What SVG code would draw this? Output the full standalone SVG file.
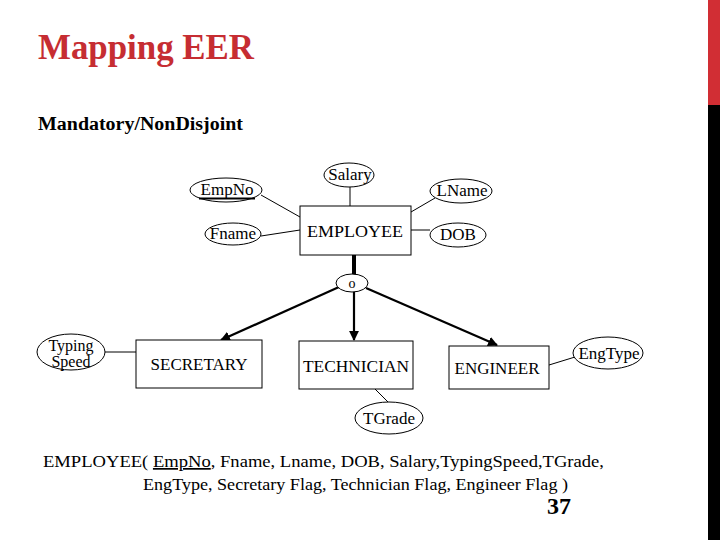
<svg xmlns="http://www.w3.org/2000/svg" width="720" height="540" viewBox="0 0 720 540">
<style>
text{font-family:"Liberation Serif","DejaVu Serif","Times New Roman",serif;fill:#000}
.lbl{font-size:17px;text-anchor:middle}
.ent{fill:#fff;stroke:#000;stroke-width:1}
.att{fill:#fff;stroke:#000;stroke-width:1}
.ln{stroke:#000;stroke-width:1;fill:none}
.arr{stroke:#000;stroke-width:2.2;fill:none;marker-end:url(#ah)}
</style>
<defs>
<marker id="ah" viewBox="0 0 10 10" refX="9" refY="5" markerWidth="4.5" markerHeight="4.5" orient="auto" markerUnits="strokeWidth">
<path d="M0,0 L10,5 L0,10 z" fill="#000"/>
</marker>
</defs>
<rect width="720" height="540" fill="#fff"/>
<rect x="708" y="0" width="12" height="105" fill="#d12e34"/>
<rect x="708" y="105" width="12" height="435" fill="#000"/>
<text x="38" y="59" font-family="Liberation Serif, DejaVu Serif, serif" style="font-size:36px;font-weight:bold;fill:#c62d32" textLength="216" lengthAdjust="spacingAndGlyphs">Mapping EER</text>
<text x="38" y="130" font-family="Liberation Serif, DejaVu Serif, serif" style="font-size:18px;font-weight:bold" textLength="205" lengthAdjust="spacingAndGlyphs">Mandatory/NonDisjoint</text>

<g id="connectors">
<line class="ln" x1="350" y1="187" x2="350" y2="206"/>
<line class="ln" x1="261" y1="195" x2="300" y2="217"/>
<line class="ln" x1="261" y1="236" x2="300" y2="230"/>
<line class="ln" x1="411" y1="212" x2="435" y2="198"/>
<line class="ln" x1="411" y1="230" x2="430" y2="230"/>
<line x1="354" y1="255" x2="354" y2="275" stroke="#000" stroke-width="4"/>
<line class="arr" x1="339" y1="287" x2="221" y2="340"/>
<line class="arr" x1="354" y1="292" x2="354" y2="340"/>
<line class="arr" x1="366" y1="288" x2="497" y2="345"/>
<line class="ln" x1="105" y1="352" x2="136" y2="352"/>
<line class="ln" x1="549" y1="365" x2="575" y2="357"/>
<line class="ln" x1="375" y1="389" x2="388" y2="402"/>
</g>

<g id="employee"><rect class="ent" x="300" y="206" width="111" height="49"/><text class="lbl" x="355" y="237" textLength="96" lengthAdjust="spacingAndGlyphs">EMPLOYEE</text></g>
<g id="salary"><ellipse class="att" cx="349" cy="175" rx="25" ry="12"/><text class="lbl" x="350" y="180">Salary</text></g>
<g id="empno"><ellipse class="att" cx="226" cy="190" rx="36" ry="12"/><text class="lbl" x="227" y="195">EmpNo</text><line x1="199" y1="198.5" x2="255" y2="198.5" stroke="#000" stroke-width="2"/></g>
<g id="lname"><ellipse class="att" cx="461" cy="191" rx="31" ry="12"/><text class="lbl" x="462" y="196">LName</text></g>
<g id="fname"><ellipse class="att" cx="233" cy="234" rx="28" ry="11"/><text class="lbl" x="233" y="239">Fname</text></g>
<g id="dob"><ellipse class="att" cx="458" cy="235" rx="28" ry="12"/><text class="lbl" x="458" y="240">DOB</text></g>
<g id="overlap"><ellipse class="att" cx="352" cy="283" rx="16" ry="9"/><text class="lbl" x="352" y="288" style="font-size:14px">o</text></g>
<g id="secretary"><rect class="ent" x="136" y="340" width="126" height="48"/><text class="lbl" x="199" y="370">SECRETARY</text></g>
<g id="technician"><rect class="ent" x="299" y="341" width="114" height="48"/><text class="lbl" x="356" y="372" textLength="106" lengthAdjust="spacingAndGlyphs">TECHNICIAN</text></g>
<g id="engineer"><rect class="ent" x="449" y="346" width="100" height="43"/><text class="lbl" x="497" y="374">ENGINEER</text></g>
<g id="typingspeed"><ellipse class="att" cx="71" cy="352" rx="34" ry="18"/><text class="lbl" x="71" y="351" style="font-size:16px">Typing</text><text class="lbl" x="71" y="367" style="font-size:16px">Speed</text></g>
<g id="engtype"><ellipse class="att" cx="608" cy="353" rx="35" ry="16"/><text class="lbl" x="609" y="359">EngType</text></g>
<g id="tgrade"><ellipse class="att" cx="389" cy="418" rx="34" ry="16"/><text class="lbl" x="389" y="424">TGrade</text></g>

<text x="43" y="467" style="font-size:17px" textLength="561" lengthAdjust="spacingAndGlyphs">EMPLOYEE( <tspan text-decoration="underline">EmpNo</tspan>, Fname, Lname, DOB, Salary,TypingSpeed,TGrade,</text>
<text x="143" y="490" style="font-size:17px" textLength="425" lengthAdjust="spacingAndGlyphs">EngType, Secretary Flag, Technician Flag, Engineer Flag )</text>
<text x="547" y="514" style="font-size:24px;font-weight:bold">37</text>
</svg>
